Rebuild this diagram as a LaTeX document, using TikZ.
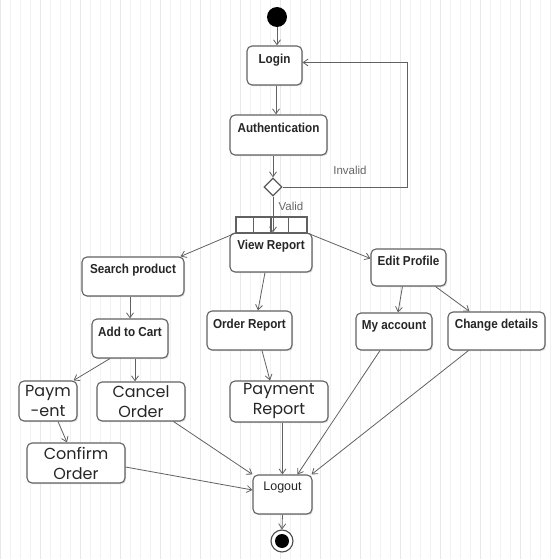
\documentclass[tikz,border=0pt]{standalone}
\usepackage{fontspec}
\setmainfont{Liberation Sans}
\newfontfamily\boxfont[FakeStretch=0.9]{Liberation Sans}
\newfontfamily\roundfont{Poppins}
\usetikzlibrary{arrows.meta,shapes.geometric,calc,shadows}
\begin{document}
\begin{tikzpicture}[x=1pt,y=-1pt,
  box/.style={draw=black!62, line width=1.1pt, rounded corners=5pt, fill=white,
    drop shadow={shadow xshift=1.2pt, shadow yshift=-1.2pt, opacity=0.25}, inner sep=0pt},
  toptext/.style={anchor=base, inner sep=0pt, font=\boxfont\bfseries\fontsize{13}{15}\selectfont, text=black!85},
  plaintext/.style={anchor=base, inner sep=0pt, font=\fontsize{12.5}{15}\selectfont, text=black!85},
  bigtext/.style={box, align=center, font=\roundfont\fontsize{16}{20}\selectfont, text=black!85},
  guard/.style={inner sep=0pt, font=\fontsize{11.5}{14}\selectfont, text=black!60},
  arr/.style={draw=black!62, line width=0.8pt, -{Straight Barb[length=5pt,width=7pt]}}]
\useasboundingbox (0,0) rectangle (560,559);
\fill[white] (0,0) rectangle (560,559);
\draw[black!5, line width=0.4pt, step=10] (0,0) grid (560,559);
\draw[black!9, line width=0.5pt, step=40] (0,0) grid (560,559);

% start / end
\node[circle, fill=black, minimum size=20, inner sep=0pt] (start) at (277,17) {};
\node[circle, draw=black!70, line width=1.1pt, fill=white, minimum size=22, inner sep=0pt] (end) at (282,541) {};
\node[circle, fill=black, minimum size=14, inner sep=0pt] (endin) at (end.center) {};

% top-labelled activities
\node[box, minimum width=55, minimum height=39] (login) at (274.5,65.5) {};
\node[toptext] (loginT) at ([yshift=-18pt]login.north) {Login};
\node[box, minimum width=97, minimum height=40] (auth) at (278.5,135) {};
\node[toptext] (authT) at ([yshift=-18pt]auth.north) {Authentication};
\node[diamond, draw=black!65, line width=1.1pt, fill=white, minimum width=18, minimum height=18, inner sep=0pt] (dec) at (273,187) {};

\node[box, minimum width=82, minimum height=39] (view) at (271,252.5) {};
\node[toptext] (viewT) at ([yshift=-17pt]view.north) {View Report};
\node[draw=black!62, line width=1.1pt, fill=white, minimum width=71, minimum height=16, inner sep=0pt] (fork) at (271.5,225) {};
\foreach \i in {1,2,3}
  \draw[black!62, line width=1.1pt] ($(fork.north west)+(\i*17.75,0)$) -- ($(fork.south west)+(\i*17.75,0)$);

\node[box, minimum width=102, minimum height=39] (search) at (133,276.5) {};
\node[toptext] (searchT) at ([yshift=-17pt]search.north) {Search product};
\node[box, minimum width=75, minimum height=37] (edit) at (408.5,267.5) {};
\node[toptext] (editT) at ([yshift=-17pt]edit.north) {Edit Profile};
\node[box, minimum width=76, minimum height=39] (cart) at (130,338.5) {};
\node[toptext] (cartT) at ([yshift=-18pt]cart.north) {Add to Cart};
\node[box, minimum width=85, minimum height=39] (order) at (249.5,330.5) {};
\node[toptext] (orderT) at ([yshift=-18pt]order.north) {Order Report};
\node[box, minimum width=76, minimum height=37] (myacc) at (394,331.5) {};
\node[toptext] (myaccT) at ([yshift=-17pt]myacc.north) {My account};
\node[box, minimum width=97, minimum height=38] (change) at (496.5,331) {};
\node[toptext] (changeT) at ([yshift=-17pt]change.north) {Change details};

% two-line activities
\node[bigtext, minimum width=58, minimum height=40] (pay) at (48,401) {Paym\\-ent};
\node[bigtext, minimum width=88, minimum height=39] (cancel) at (141,401.5) {Cancel\\Order};
\node[bigtext, minimum width=98, minimum height=40] (confirm) at (76,463) {Confirm\\Order};
\node[bigtext, minimum width=98, minimum height=41] (payrep) at (279,401.5) {Payment\\Report};

\node[box, minimum width=59, minimum height=39] (logout) at (282.5,494.5) {};
\node[plaintext] (logoutT) at ([yshift=-16pt]logout.north) {Logout};

% guards
\node[guard] (invalidL) at (350,170) {Invalid};
\node[guard] (validL) at (291,206) {Valid};

% connectors
\draw[arr] (start.south) -- (start.south |- login.north);
\draw[arr] ([xshift=1.5pt]login.south) -- ([xshift=1.5pt]login.south |- auth.north);
\draw[arr] (dec.north |- auth.south) -- (dec.north);
\draw[arr] (dec.east) -- ++(125,0) |- ([yshift=3pt]login.east);
\draw[arr] (dec.south) -- (dec.south |- view.north);
\draw[arr] ([xshift=-1pt]fork.south west) -- ([xshift=-4pt]search.north east);
\draw[arr] ([xshift=1pt]fork.south east) -- ([yshift=9pt]edit.west);
\draw[arr] ([xshift=-6pt]view.south) -- ([xshift=8.5pt]order.north);
\draw[arr] (cart.north |- search.south) -- (cart.north);
\draw[arr] ([xshift=-6pt]edit.south) -- ([xshift=4pt]myacc.north);
\draw[arr] ([xshift=27pt]edit.south) -- ([xshift=-27pt]change.north);
\draw[arr] ([xshift=-20pt]cart.south) -- ([xshift=-4pt]pay.north east);
\draw[arr] ([xshift=5pt]cart.south) -- ([xshift=5pt]cart.south |- cancel.north);
\draw[arr] ([xshift=12.5pt]order.south) -- ([xshift=-9pt]payrep.north);
\draw[arr] ([xshift=10pt]pay.south) -- ([xshift=-9pt]confirm.north);
\draw[arr] ([xshift=-12pt]cancel.south east) -- (logout.north west);
\draw[arr] ([yshift=-4pt]confirm.east) -- ([yshift=4.5pt]logout.west);
\draw[arr] (payrep.south -| logout.north) -- (logout.north);
\draw[arr] ([xshift=-14pt]myacc.south) -- ([xshift=15pt]logout.north);
\draw[arr] ([xshift=-28pt]change.south) -- ([xshift=-1pt]logout.north east);
\draw[arr] (logout.south) -- (end.north);
\end{tikzpicture}
\end{document}
